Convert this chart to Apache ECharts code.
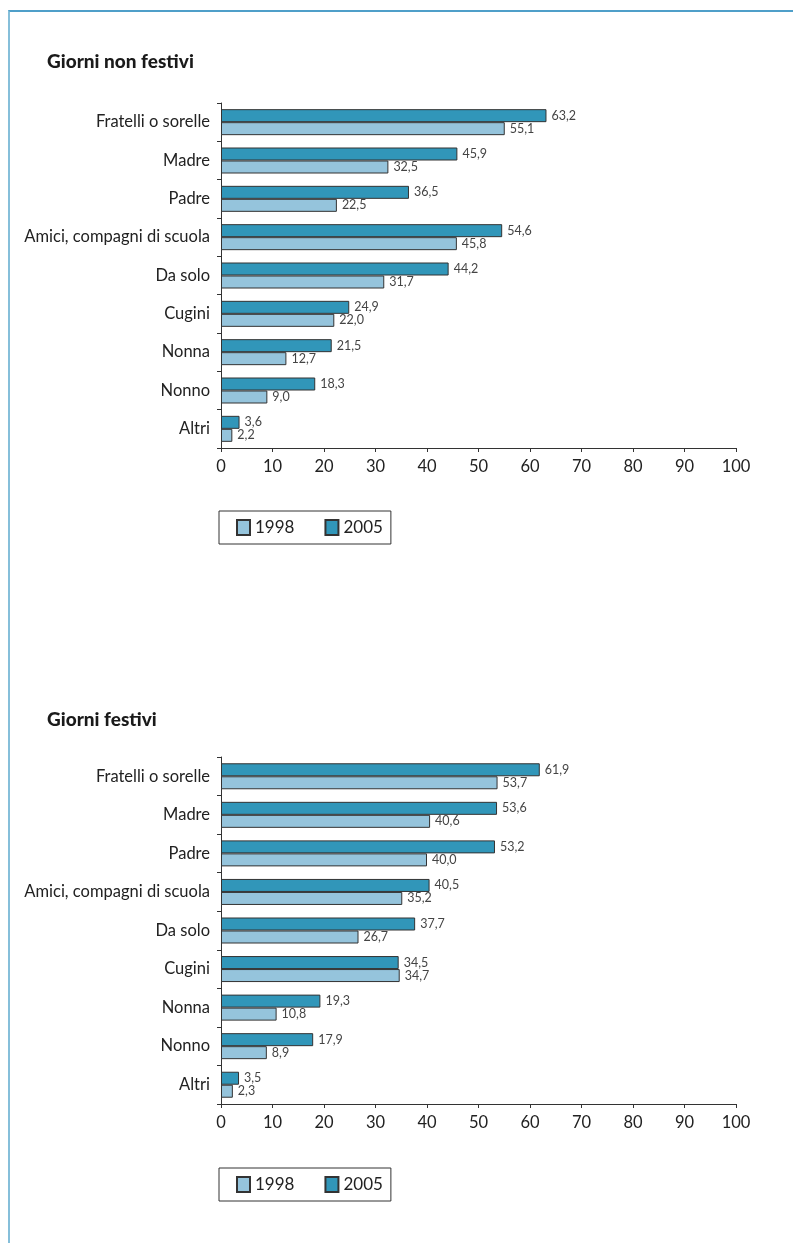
<!DOCTYPE html>
<html>
<head>
<meta charset="utf-8">
<script src="https://cdn.jsdelivr.net/npm/echarts@6/dist/echarts.min.js"></script>
<style>
  html, body { margin: 0; padding: 0; background: #fff; }
  #frame { position: absolute; left: 8px; top: 10px; right: 0; bottom: 0;
           border-left: 2px solid #86bfda; border-top: 2px solid #4f9fc9; }
  #chart { position: absolute; left: 0; top: 0; width: 793px; height: 1243px; }
</style>
</head>
<body>
<div id="frame"></div>
<div id="chart"></div>
<script>
// Who the children spend their time with (%), weekdays and holidays, 1998 vs 2005
const categories = ['Fratelli o sorelle', 'Madre', 'Padre', 'Amici, compagni di scuola',
                    'Da solo', 'Cugini', 'Nonna', 'Nonno', 'Altri'];
const xTicks = [0, 10, 20, 30, 40, 50, 60, 70, 80, 90, 100];

const feriali2005 = [63.2, 45.9, 36.5, 54.6, 44.2, 24.9, 21.5, 18.3, 3.6];
const feriali1998 = [55.1, 32.5, 22.5, 45.8, 31.7, 22.0, 12.7, 9.0, 2.2];
const festivi2005 = [61.9, 53.6, 53.2, 40.5, 37.7, 34.5, 19.3, 17.9, 3.5];
const festivi1998 = [53.7, 40.6, 40.0, 35.2, 26.7, 34.7, 10.8, 8.9, 2.3];

const titles = ['Giorni non festivi', 'Giorni festivi'];
const years = ['1998', '2005'];

const COL_DARK = '#3196b9';
const COL_LIGHT = '#95c4dc';
const FONT = 'Lato, "Open Sans", sans-serif';

const chart = echarts.init(document.getElementById('chart'));

const grids = [
  { left: 221, right: 57, top: 103, height: 345 },
  { left: 221, right: 57, top: 757, height: 347 }
];

function xAxis(i) {
  return {
    type: 'value', gridIndex: i, min: 0, max: 100, interval: 10,
    axisLine: { show: true, lineStyle: { color: '#333', width: 1 } },
    axisTick: { show: true, length: 4, lineStyle: { color: '#333' },
                customValues: xTicks },
    axisLabel: { color: '#222', fontSize: 16.5, fontFamily: FONT, margin: 10,
                 customValues: xTicks },
    splitLine: { show: false }
  };
}
function yAxis(i) {
  return {
    type: 'category', gridIndex: i, data: categories, inverse: true,
    axisLine: { show: true, lineStyle: { color: '#333', width: 1 } },
    axisTick: { show: true, length: 4, lineStyle: { color: '#333' } },
    axisLabel: { color: '#222', fontSize: 16.5, fontFamily: FONT, margin: 11 }
  };
}
function barSeries(name, data, color, i) {
  return {
    type: 'bar', name: name, data: data, xAxisIndex: i, yAxisIndex: i,
    barWidth: 13, barGap: '0%',
    itemStyle: { color: color, borderColor: '#333', borderWidth: 1 },
    label: {
      show: true, position: 'right', distance: 5,
      color: '#444', fontSize: 12.5, fontFamily: FONT,
      formatter: p => p.value.toFixed(1).replace('.', ',')
    },
    animation: false
  };
}

function legend(top) {
  return {
    data: years, left: 219, top: top, orient: 'horizontal',
    icon: 'rect', itemWidth: 13, itemHeight: 15, itemGap: 30,
    padding: [8, 8, 8, 17],
    borderColor: '#333', borderWidth: 1,
    textStyle: { color: '#222', fontSize: 17, fontFamily: FONT },
    selectedMode: false
  };
}

chart.setOption({
  animation: false,
  title: [
    { text: titles[0], left: 42, top: 47,
      textStyle: { fontSize: 19, fontWeight: 900, color: '#1a1a1a', fontFamily: FONT } },
    { text: titles[1], left: 42, top: 705,
      textStyle: { fontSize: 19, fontWeight: 900, color: '#1a1a1a', fontFamily: FONT } }
  ],
  legend: [legend(511), legend(1168)],
  grid: grids,
  xAxis: [xAxis(0), xAxis(1)],
  yAxis: [yAxis(0), yAxis(1)],
  series: [
    barSeries('2005', feriali2005, COL_DARK, 0),
    barSeries('1998', feriali1998, COL_LIGHT, 0),
    barSeries('2005', festivi2005, COL_DARK, 1),
    barSeries('1998', festivi1998, COL_LIGHT, 1)
  ]
});
</script>
</body>
</html>
